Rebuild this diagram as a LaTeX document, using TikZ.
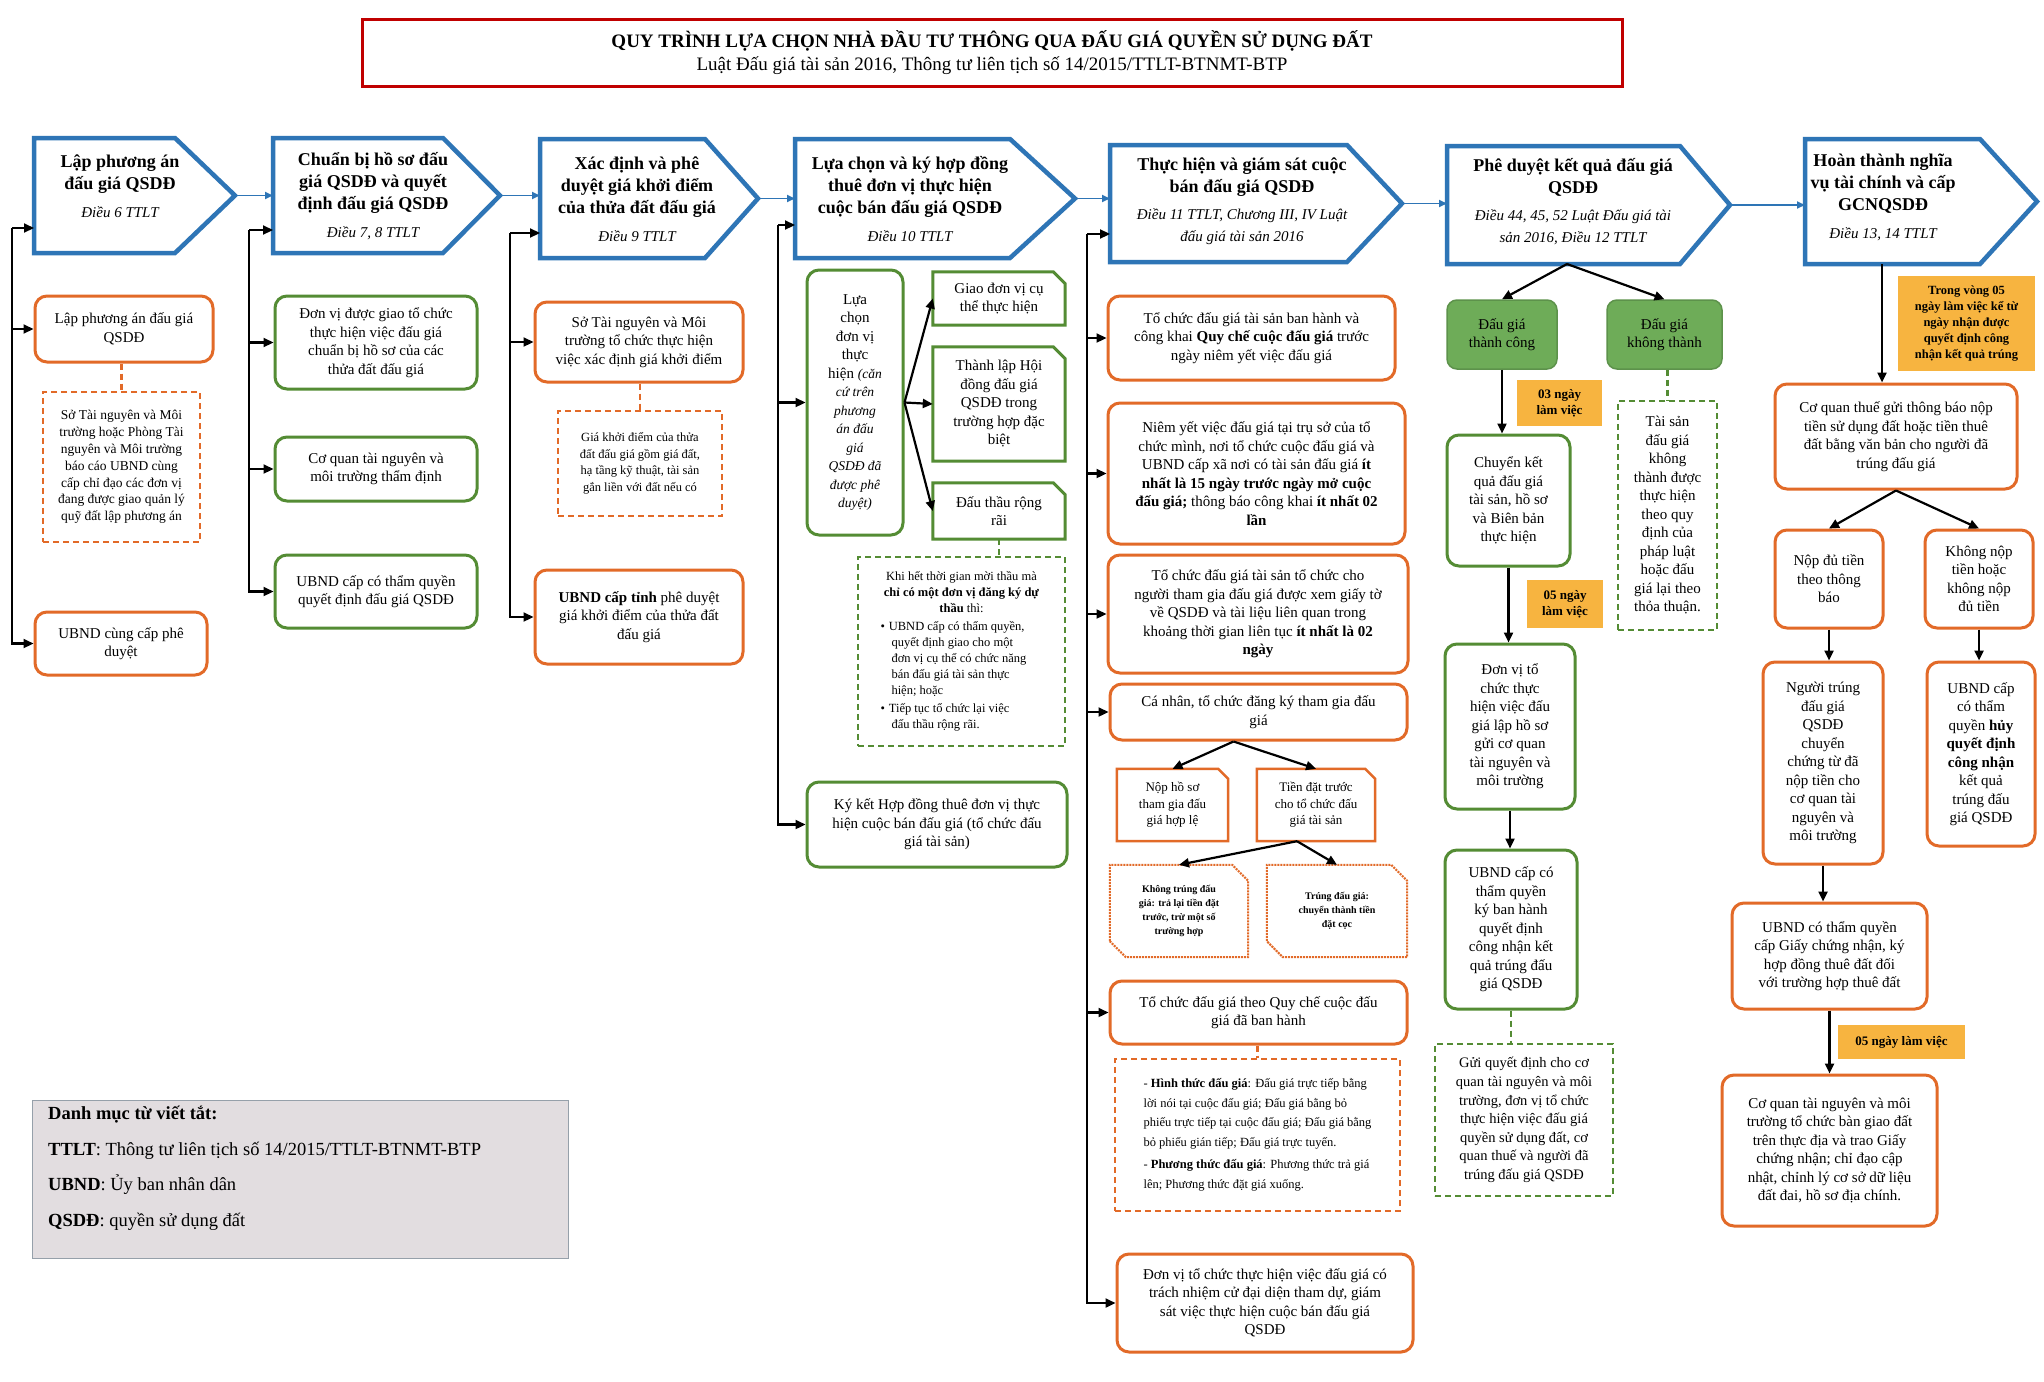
\documentclass[tikz,border=0pt]{standalone}
\usepackage{fontspec}
\setmainfont{Liberation Serif}
\usetikzlibrary{arrows.meta}

\definecolor{chevblue}{RGB}{46,117,182}
\definecolor{orngline}{RGB}{226,106,40}
\definecolor{grnline}{RGB}{84,140,52}
\definecolor{grnfill}{RGB}{110,172,88}
\definecolor{tagfill}{RGB}{247,180,64}
\definecolor{titlered}{RGB}{192,0,0}
\definecolor{legfill}{RGB}{226,221,224}
\definecolor{legline}{RGB}{150,160,170}

\newcommand{\hdref}[1]{{\fontsize{15}{18}\selectfont\mdseries\itshape #1}}
\newcommand{\smit}[1]{{\fontsize{13.5}{16.5}\selectfont\itshape #1}}

\tikzset{
  txt/.style={align=center, inner sep=3pt, font=\fontsize{15}{18.5}\selectfont},
  wh/.style 2 args={minimum width=#1pt, minimum height=#2pt},
  obox/.style={txt, draw=orngline, line width=3pt, rounded corners=12pt},
  gbox/.style={txt, draw=grnline, line width=3pt, rounded corners=12pt},
  gfull/.style={txt, draw=grnfill!85!black, fill=grnfill, line width=1.5pt, rounded corners=10pt},
  onote/.style={txt, draw=orngline, line width=2pt, dash pattern=on 6pt off 4pt},
  gnote/.style={txt, draw=grnline, line width=2pt, dash pattern=on 6pt off 4pt},
  tag/.style={txt, fill=tagfill, font=\fontsize{13}{16}\selectfont\bfseries},
  chev/.style={draw=chevblue, line width=4.5pt, line join=miter, fill=white},
  hd/.style={align=center, inner sep=0pt, font=\fontsize{18}{22}\selectfont\bfseries},
  arr/.style={line width=2.2pt, -{Triangle[length=10pt,width=9pt]}},
  barr/.style={draw=chevblue, line width=1.8pt, -{Triangle[length=8pt,width=7pt]}},
  odash/.style={draw=orngline, line width=2.5pt, dash pattern=on 6pt off 4pt},
  gdash/.style={draw=grnline, line width=2.5pt, dash pattern=on 6pt off 4pt},
}

\begin{document}
\begin{tikzpicture}[x=1pt,y=-1pt]
\useasboundingbox (0,0) rectangle (2044,1381);
\fill[white] (0,0) rectangle (2044,1381);

% title
\node[draw=titlered, line width=3pt, wh={1260}{67}, align=center, font=\fontsize{19}{23}\selectfont] (title) at (992,53)
  {\textbf{QUY TRÌNH LỰA CHỌN NHÀ ĐẦU TƯ THÔNG QUA ĐẤU GIÁ QUYỀN SỬ DỤNG ĐẤT}\\Luật Đấu giá tài sản 2016, Thông tư liên tịch số 14/2015/TTLT-BTNMT-BTP};

% header chevrons
\draw[chev] (34,138) -- (175,138) -- (235,195.5) coordinate (h1tip) -- (175,253) -- (34,253) -- cycle;
\coordinate (h1w) at (34,195.5);
\node[hd] (h1) at (120,186) {Lập phương án\\đấu giá QSDĐ\\[6pt]\hdref{Điều 6 TTLT}};

\draw[chev] (273,138) -- (443,138) -- (500,195.5) coordinate (h2tip) -- (443,253) -- (273,253) -- cycle;
\coordinate (h2w) at (273,195.5);
\node[hd] (h2) at (373,196) {Chuẩn bị hồ sơ đấu\\giá QSDĐ và quyết\\định đấu giá QSDĐ\\[6pt]\hdref{Điều 7, 8 TTLT}};

\draw[chev] (540,139) -- (705,139) -- (758,198.5) coordinate (h3tip) -- (705,258) -- (540,258) -- cycle;
\coordinate (h3w) at (540,198.5);
\node[hd] (h3) at (637,199) {Xác định và phê\\duyệt giá khởi điểm\\của thửa đất đấu giá\\[6pt]\hdref{Điều 9 TTLT}};

\draw[chev] (795,139) -- (1010,139) -- (1075,198.5) coordinate (h4tip) -- (1010,258) -- (795,258) -- cycle;
\coordinate (h4w) at (795,198.5);
\node[hd] (h4) at (910,199) {Lựa chọn và ký hợp đồng\\thuê đơn vị thực hiện\\cuộc bán đấu giá QSDĐ\\[6pt]\hdref{Điều 10 TTLT}};

\draw[chev] (1110,145) -- (1347,145) -- (1402,203.5) coordinate (h5tip) -- (1347,262) -- (1110,262) -- cycle;
\coordinate (h5w) at (1110,203.5);
\node[hd] (h5) at (1242,201) {Thực hiện và giám sát cuộc\\bán đấu giá QSDĐ\\[5pt]\hdref{Điều 11 TTLT, Chương III, IV Luật}\\\hdref{đấu giá tài sản 2016}};

\draw[chev] (1447,146) -- (1680,146) -- (1730,205) coordinate (h6tip) -- (1680,264) -- (1447,264) -- cycle;
\coordinate (h6w) at (1447,205);
\coordinate (h6s) at (1567,264);
\node[hd] (h6) at (1573,202) {Phê duyệt kết quả đấu giá\\QSDĐ\\[5pt]\hdref{Điều 44, 45, 52 Luật Đấu giá tài}\\\hdref{sản 2016, Điều 12 TTLT}};

\draw[chev] (1805,139) -- (1980,139) -- (2037,201.5) coordinate (h7tip) -- (1980,264) -- (1805,264) -- cycle;
\coordinate (h7w) at (1805,201.5);
\coordinate (h7s) at (1882,264);
\node[hd] (h7) at (1883,197) {Hoàn thành nghĩa\\vụ tài chính và cấp\\GCNQSDĐ\\[6pt]\hdref{Điều 13, 14 TTLT}};

\draw[barr] (h1tip) -- (h1tip -| h2w);
\draw[barr] (h2tip) -- (h2tip -| h3w);
\draw[barr] (h3tip) -- (h3tip -| h4w);
\draw[barr] (h4tip) -- (h4tip -| h5w);
\draw[barr] (h5tip) -- (h5tip -| h6w);
\draw[barr] (h6tip) -- (h6tip -| h7w);

% column 1
\node[obox, wh={178}{66}] (p1) at (124,329) {Lập phương án đấu giá\\QSDĐ};
\node[onote, wh={157}{150}, font=\fontsize{13.5}{16.8}\selectfont] (p1n) at (121.5,467)
  {Sở Tài nguyên và Môi\\trường hoặc Phòng Tài\\nguyên và Môi trường\\báo cáo UBND cùng\\cấp chỉ đạo các đơn vị\\đang được giao quản lý\\quỹ đất lập phương án};
\node[obox, wh={172}{63}] (p2) at (121,643.5) {UBND cùng cấp phê\\duyệt};
\coordinate (b1) at (12,228);
\draw[arr] (b1) -- (b1 -| h1w);
\draw[arr] (b1) |- (p2.west);
\draw[arr] (b1 |- p1.west) -- (p1.west);
\draw[odash] (p1n.north |- p1.south) -- (p1n.north);

% column 2
\node[gbox, wh={202}{93}] (q1) at (376,342.5) {Đơn vị được giao tổ chức\\thực hiện việc đấu giá\\chuẩn bị hồ sơ của các\\thửa đất đấu giá};
\node[gbox, wh={202}{64}] (q2) at (376,469) {Cơ quan tài nguyên và\\môi trường thẩm định};
\node[gbox, wh={202}{73}] (q3) at (376,591.5) {UBND cấp có thẩm quyền\\quyết định đấu giá QSDĐ};
\coordinate (b2) at (249,230);
\draw[arr] (b2) -- (b2 -| h2w);
\draw[arr] (b2) |- (q3.west);
\draw[arr] (b2 |- q1.west) -- (q1.west);
\draw[arr] (b2 |- q2.west) -- (q2.west);

% column 3
\node[obox, wh={208}{80}] (r1) at (639,342) {Sở Tài nguyên và Môi\\trường tổ chức thực hiện\\việc xác định giá khởi điểm};
\node[onote, wh={164}{105}, font=\fontsize{12.5}{16.5}\selectfont] (r1n) at (640,463.5)
  {Giá khởi điểm của thửa\\đất đấu giá gồm giá đất,\\hạ tầng kỹ thuật, tài sản\\gắn liền với đất nếu có};
\node[obox, wh={208}{94}] (r2) at (639,617) {\textbf{UBND cấp tỉnh} phê duyệt\\giá khởi điểm của thửa đất\\đấu giá};
\coordinate (b3) at (510,233);
\draw[arr] (b3) -- (b3 -| h3w);
\draw[arr] (b3) |- (r2.west);
\draw[arr] (b3 |- r1.west) -- (r1.west);
\draw[odash] (r1n.north |- r1.south) -- (r1n.north);

% column 4
\node[gbox, wh={96}{265}] (s1) at (855,402.5)
  {Lựa\\chọn\\đơn vị\\thực\\hiện \smit{(căn}\\\smit{cứ trên}\\\smit{phương}\\\smit{án đấu}\\\smit{giá}\\\smit{QSDĐ đã}\\\smit{được phê}\\\smit{duyệt)}};
\node[txt, wh={132}{53}] (s2) at (999,298.5) {Giao đơn vị cụ\\thể thực hiện};
\node[txt, wh={132}{114}] (s3) at (999,404) {Thành lập Hội\\đồng đấu giá\\QSDĐ trong\\trường hợp đặc\\biệt};
\node[txt, wh={132}{56}] (s4) at (999,511) {Đấu thầu rộng\\rãi};
\foreach \n in {s2,s3,s4}
  \draw[draw=grnline, line width=3pt, line join=miter] (\n.south west) -- (\n.north west) -- ([xshift=-12pt]\n.north east)
    -- ([yshift=-12pt]\n.north east) -- (\n.south east) -- cycle;
\node[gnote, wh={207}{189}, align=left, font=\fontsize{12.5}{16}\selectfont] (s4n) at (961.5,651.5)
  {\makebox[190pt][c]{Khi hết thời gian mời thầu mà}\\
   \makebox[190pt][c]{\textbf{chỉ có một đơn vị đăng ký dự}}\\
   \makebox[190pt][c]{\textbf{thầu} thì:}\\[2pt]
   \hspace*{14pt}\textbullet\hspace{4pt}UBND cấp có thẩm quyền,\\
   \hspace*{25pt}quyết định giao cho một\\
   \hspace*{25pt}đơn vị cụ thể có chức năng\\
   \hspace*{25pt}bán đấu giá tài sản thực\\
   \hspace*{25pt}hiện; hoặc\\[2pt]
   \hspace*{14pt}\textbullet\hspace{4pt}Tiếp tục tổ chức lại việc\\
   \hspace*{25pt}đấu thầu rộng rãi.};
\node[gbox, wh={260}{85}] (s5) at (937,824.5) {Ký kết Hợp đồng thuê đơn vị thực\\hiện cuộc bán đấu giá (tổ chức đấu\\giá tài sản)};
\coordinate (b4) at (778,225);
\draw[arr] (b4) -- (b4 -| h4w);
\draw[arr] (b4) |- (s5.west);
\draw[arr] (b4 |- s1.west) -- (s1.west);
\draw[arr] (s1.east) -- (s2.west);
\draw[arr] (s1.east) -- (s3.west);
\draw[arr] (s1.east) -- (s4.west);
\draw[gdash] (s4.south) -- (s4.south |- s4n.north);

% column 5
\node[obox, wh={287}{84}] (t1) at (1251.5,338) {Tổ chức đấu giá tài sản ban hành và\\công khai \textbf{Quy chế cuộc đấu giá} trước\\ngày niêm yết việc đấu giá};
\node[obox, wh={297}{141}] (t2) at (1256.5,473.5) {Niêm yết việc đấu giá tại trụ sở của tổ\\chức mình, nơi tổ chức cuộc đấu giá và\\UBND cấp xã nơi có tài sản đấu giá \textbf{ít}\\\textbf{nhất là 15 ngày trước ngày mở cuộc}\\\textbf{đấu giá;} thông báo công khai \textbf{ít nhất 02}\\\textbf{lần}};
\node[obox, wh={300}{118}] (t3) at (1258,614) {Tổ chức đấu giá tài sản tổ chức cho\\người tham gia đấu giá được xem giấy tờ\\về QSDĐ và tài liệu liên quan trong\\khoảng thời gian liên tục \textbf{ít nhất là 02}\\\textbf{ngày}};
\node[obox, wh={297}{56}] (t4) at (1258.5,712) {Cá nhân, tổ chức đăng ký tham gia đấu\\giá};
\node[txt, wh={111}{72}, font=\fontsize{13}{16.5}\selectfont] (t5) at (1172.5,805) {Nộp hồ sơ\\tham gia đấu\\giá hợp lệ};
\node[txt, wh={118}{72}, font=\fontsize{13}{16.5}\selectfont] (t6) at (1316,805) {Tiền đặt trước\\cho tổ chức đấu\\giá tài sản};
\foreach \n in {t5,t6}
  \draw[draw=orngline, line width=2.5pt, line join=miter] (\n.south west) -- (\n.north west) -- ([xshift=-10pt]\n.north east)
    -- ([yshift=-10pt]\n.north east) -- (\n.south east) -- cycle;
\node[txt, wh={138}{92}, font=\fontsize{10}{14}\selectfont\bfseries] (t7) at (1179,911) {Không trúng đấu\\giá: trả lại tiền đặt\\trước, trừ một số\\trường hợp};
\node[txt, wh={140}{92}, font=\fontsize{10}{14}\selectfont\bfseries] (t8) at (1337,911) {Trúng đấu giá:\\chuyển thành tiền\\đặt cọc};
\foreach \n in {t7,t8}
  \draw[draw=orngline, line width=2pt, densely dotted] ([yshift=16pt]\n.south west) -- (\n.north west) -- ([xshift=-16pt]\n.north east)
    -- ([yshift=-16pt]\n.north east) -- (\n.south east) -- ([xshift=16pt]\n.south west) -- cycle;
\node[obox, wh={297}{63}] (t9) at (1258.5,1012.5) {Tổ chức đấu giá theo Quy chế cuộc đấu\\giá đã ban hành};
\node[onote, wh={285}{152}, align=left, font=\fontsize{12.5}{19.5}\selectfont] (t9n) at (1257.5,1135)
  {- \textbf{Hình thức đấu giá}: Đấu giá trực tiếp bằng\\lời nói tại cuộc đấu giá; Đấu giá bằng bỏ\\phiếu trực tiếp tại cuộc đấu giá; Đấu giá bằng\\bỏ phiếu gián tiếp; Đấu giá trực tuyến.\\[3pt]- \textbf{Phương thức đấu giá}: Phương thức trả giá\\lên; Phương thức đặt giá xuống.};
\node[obox, wh={296}{98}] (t10) at (1265,1303) {Đơn vị tổ chức thực hiện việc đấu giá có\\trách nhiệm cử đại diện tham dự, giám\\sát việc thực hiện cuộc bán đấu giá\\QSDĐ};
\coordinate (b5) at (1087,234);
\draw[arr] (b5) -- (b5 -| h5w);
\draw[arr] (b5) |- (t10.west);
\foreach \n in {t1,t2,t3,t4,t9}
  \draw[arr] (b5 |- \n.west) -- (\n.west);
\draw[arr] ([xshift=-25pt]t4.south) -- (t5.north);
\draw[arr] ([xshift=-25pt]t4.south) -- (t6.north);
\draw[arr] ([xshift=-19pt]t6.south) -- (t7.north);
\draw[arr] ([xshift=-19pt]t6.south) -- (t8.north);
\draw[odash] (t9n.north |- t9.south) -- (t9n.north);

% column 6
\node[gfull, wh={110}{69}] (u1) at (1502,334.5) {Đấu giá\\thành công};
\node[gfull, wh={115}{69}] (u2) at (1664.5,334.5) {Đấu giá\\không thành};
\node[tag, wh={85}{46}] (lab1) at (1559.5,403) {03 ngày\\làm việc};
\node[gbox, wh={123}{131}] (u3) at (1508.5,500.5) {Chuyển kết\\quả đấu giá\\tài sản, hồ sơ\\và Biên bản\\thực hiện};
\node[gnote, wh={99}{229}] (u2n) at (1667.5,515.5) {Tài sản\\đấu giá\\không\\thành được\\thực hiện\\theo quy\\định của\\pháp luật\\hoặc đấu\\giá lại theo\\thỏa thuận.};
\node[tag, wh={76}{48}] (lab2) at (1565,604) {05 ngày\\làm việc};
\node[gbox, wh={130}{165}] (u4) at (1510,726.5) {Đơn vị tổ\\chức thực\\hiện việc đấu\\giá lập hồ sơ\\gửi cơ quan\\tài nguyên và\\môi trường};
\node[gbox, wh={132}{159}] (u5) at (1511,929.5) {UBND cấp có\\thẩm quyền\\ký ban hành\\quyết định\\công nhận kết\\quả trúng đấu\\giá QSDĐ};
\node[gnote, wh={178}{152}, font=\fontsize{14.5}{18.6}\selectfont] (u5n) at (1524,1120) {Gửi quyết định cho cơ\\quan tài nguyên và môi\\trường, đơn vị tổ chức\\thực hiện việc đấu giá\\quyền sử dụng đất, cơ\\quan thuế và người đã\\trúng đấu giá QSDĐ};
\draw[arr] (h6s) -- (u1.north);
\draw[arr] (h6s) -- (u2.north);
\draw[arr] (u1.south) -- (u1.south |- u3.north);
\draw[arr] (u3.south) -- (u3.south |- u4.north);
\draw[arr] (u4.south) -- (u4.south |- u5.north);
\draw[gdash] (u2n.north |- u2.south) -- (u2n.north);
\draw[gdash] (u5.south) -- (u5.south |- u5n.north);

% column 7
\node[tag, wh={137}{95}, font=\fontsize{12.5}{16}\selectfont\bfseries] (lab3) at (1966.5,323.5) {Trong vòng 05\\ngày làm việc kể từ\\ngày nhận được\\quyết định công\\nhận kết quả trúng};
\node[obox, wh={242}{105}] (v1) at (1896,436.5) {Cơ quan thuế gửi thông báo nộp\\tiền sử dụng đất hoặc tiền thuê\\đất bằng văn bản cho người đã\\trúng đấu giá};
\node[obox, wh={108}{98}] (v2) at (1829,579) {Nộp đủ tiền\\theo thông\\báo};
\node[obox, wh={108}{98}] (v3) at (1979,579) {Không nộp\\tiền hoặc\\không nộp\\đủ tiền};
\node[obox, wh={120}{202}] (v4) at (1823,763) {Người trúng\\đấu giá\\QSDĐ\\chuyển\\chứng từ đã\\nộp tiền cho\\cơ quan tài\\nguyên và\\môi trường};
\node[obox, wh={108}{184}] (v5) at (1981,754) {UBND cấp\\có thẩm\\quyền \textbf{hủy}\\\textbf{quyết định}\\\textbf{công nhận}\\kết quả\\trúng đấu\\giá QSDĐ};
\node[obox, wh={195}{106}] (v6) at (1829.5,956) {UBND có thẩm quyền\\cấp Giấy chứng nhận, ký\\hợp đồng thuê đất đối\\với trường hợp thuê đất};
\node[tag, wh={127}{34}] (lab4) at (1901.5,1042) {05 ngày làm việc};
\node[obox, wh={215}{151}] (v7) at (1829.5,1150.5) {Cơ quan tài nguyên và môi\\trường tổ chức bàn giao đất\\trên thực địa và trao Giấy\\chứng nhận; chỉ đạo cập\\nhật, chỉnh lý cơ sở dữ liệu\\đất đai, hồ sơ địa chính.};
\draw[arr] (h7s) -- (h7s |- v1.north);
\draw[arr] (v1.south) -- (v2.north);
\draw[arr] (v1.south) -- (v3.north);
\draw[arr] (v2.south) -- (v2.south |- v4.north);
\draw[arr] (v3.south) -- (v3.south |- v5.north);
\draw[arr] (v4.south) -- (v4.south |- v6.north);
\draw[arr] (v6.south) -- (v6.south |- v7.north);

% legend
\node[draw=legline, fill=legfill, line width=1pt, wh={536}{158}] (leg) at (300,1179) {};
\node[anchor=north west, align=left, inner sep=0pt, font=\fontsize{18.5}{35.6}\selectfont] (legtxt) at (48,1106)
  {\textbf{Danh mục từ viết tắt:}\\\textbf{TTLT}: Thông tư liên tịch số 14/2015/TTLT-BTNMT-BTP\\\textbf{UBND}: Ủy ban nhân dân\\\textbf{QSDĐ}: quyền sử dụng đất};
\end{tikzpicture}
\end{document}
